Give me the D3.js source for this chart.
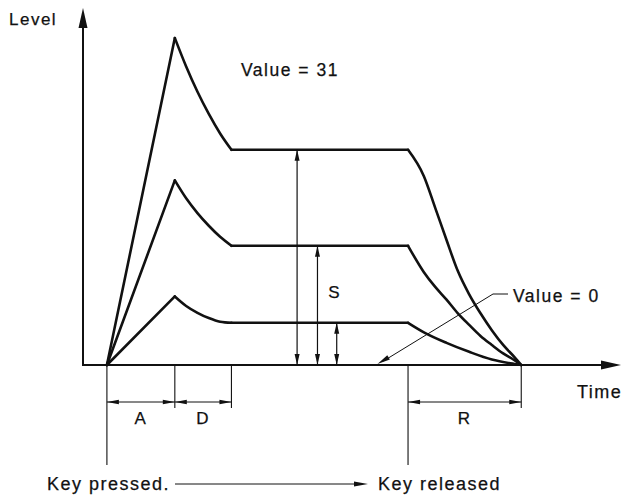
<!DOCTYPE html>
<html><head><meta charset="utf-8">
<script src="https://cdn.jsdelivr.net/npm/d3@7"></script>
<style>
html,body{margin:0;padding:0;background:#fff;}
text{font-family:"Liberation Sans",Arial,sans-serif;fill:#111;letter-spacing:1.5px;stroke:#111;stroke-width:0.25px;}
</style></head>
<body>
<svg id="c" width="624" height="496"></svg>
<script>
// ---- data (time units, level units 0..31) ----
const phaseTimes = [0, 6, 11, 26.6, 36.6];          // key pressed, attack end, decay end, key released, release end
const phaseLabels = ["A", "D", "R"];
const peakLevels = [31, 17.5, 6.5];
const sustainLevels = [20.4, 11.3, 4.0];
const decayCurves = [
  [[6,31],[7,28.3],[8,25.9],[9,23.8],[10,21.95],[11,20.4]],
  [[6,17.5],[7,15.8],[8,14.4],[9,13.2],[10,12.15],[11,11.3]],
  [[6,6.5],[7,5.6],[8,4.95],[9,4.45],[10,4.1],[11,4.0]]
];
const releaseCurves = [
  [[26.6,20.4],[28,17.9],[29,14.9],[30,11.85],[31,8.9],[32,6.7],[33,4.9],[34,3.3],[35,1.9],[36,0.75],[36.6,0]],
  [[26.6,11.3],[28,8.8],[29,7.4],[30,6.2],[31,4.9],[32,3.8],[33,2.75],[34,1.9],[35,1.1],[36,0.45],[36.6,0]],
  [[26.6,4.0],[28,3.1],[30,2.1],[32,1.25],[34,0.52],[36,0.1],[36.6,0]]
];
const sustainArrowTimes = [16.8, 18.6, 20.3];
const axisLabels = ["Level", "Time"];
const valueLabels = ["Value = 31", "Value = 0"];
const keyLabels = ["Key pressed.", "Key released"];

// ---- scales ----
const x = d3.scaleLinear().domain([-2.2, 45.5]).range([82, 622]);
const y = d3.scaleLinear().domain([0, 31]).range([365, 38]);
const svg = d3.select("#c");
const ink = "#111";

function head(g, x1, y1, x2, y2, len, w) {
  const a = Math.atan2(y2 - y1, x2 - x1);
  const bx = x2 - len * Math.cos(a), by = y2 - len * Math.sin(a);
  const px = -Math.sin(a) * w / 2, py = Math.cos(a) * w / 2;
  g.append("path").attr("d", `M${x2},${y2}L${bx+px},${by+py}L${bx-px},${by-py}Z`).attr("fill", ink);
}
function dblArrow(g, x1, y1, x2, y2, sw, len, w) {
  g.append("line").attr("x1", x1).attr("y1", y1).attr("x2", x2).attr("y2", y2)
    .attr("stroke", ink).attr("stroke-width", sw);
  head(g, x2, y2, x1, y1, len, w);
  head(g, x1, y1, x2, y2, len, w);
}

// ---- axes ----
const ax = svg.append("g");
const x0 = x.range()[0] + 1, y0 = y(0);
ax.append("path").attr("d", `M${x0},${y.range()[1]-20}L${x0},${y0}L${x.range()[1]-10},${y0}`)
  .attr("fill", "none").attr("stroke", ink).attr("stroke-width", 2);
head(ax, x0, 100, x0, 8, 20, 9);
head(ax, 500, y0, x.range()[1] - 1, y0, 20, 9);
ax.append("text").attr("x", 9).attr("y", 25).attr("font-size", 17).text(axisLabels[0]);
ax.append("text").attr("x", 577).attr("y", 398).attr("font-size", 18).text(axisLabels[1]);

// ---- envelopes ----
const env = svg.append("g").attr("fill", "none").attr("stroke", ink).attr("stroke-width", 2.6)
  .attr("stroke-linejoin", "round").attr("stroke-linecap", "round");
const lin = d3.line().x(d => x(d[0])).y(d => y(d[1]));
const smooth = d3.line().x(d => x(d[0])).y(d => y(d[1])).curve(d3.curveMonotoneX);
peakLevels.forEach((p, i) => {
  env.append("path").attr("d", lin([[phaseTimes[0], 0], [phaseTimes[1], p]]));
  env.append("path").attr("d", smooth(decayCurves[i]));
  env.append("path").attr("d", lin([[phaseTimes[2], sustainLevels[i]], [phaseTimes[3], sustainLevels[i]]]));
  env.append("path").attr("d", smooth(releaseCurves[i]));
});

// ---- sustain arrows ----
const sg = svg.append("g");
sustainArrowTimes.forEach((t, i) => {
  dblArrow(sg, x(t), y(0), x(t), y(sustainLevels[i]), 1.2, 11, 5);
});
sg.append("text").attr("x", x(19.55)).attr("y", y(6.9) + 6).attr("font-size", 17).text("S");

// ---- phase ticks and dimensions ----
const dg = svg.append("g");
const longTicks = [0, 3];
phaseTimes.forEach((t, i) => {
  dg.append("line").attr("x1", x(t)).attr("x2", x(t)).attr("y1", y0)
    .attr("y2", longTicks.includes(i) ? 465 : 408).attr("stroke", ink).attr("stroke-width", 1.1);
});
const dims = [[0, 1], [1, 2], [3, 4]];
dims.forEach((d, k) => {
  const xa = x(phaseTimes[d[0]]), xb = x(phaseTimes[d[1]]);
  dblArrow(dg, xa, 402, xb, 402, 1, 12, 4.5);
  dg.append("text").attr("x", (xa + xb) / 2).attr("y", 424).attr("text-anchor", "middle")
    .attr("font-size", 17).text(phaseLabels[k]);
});

// ---- value labels ----
const vg = svg.append("g");
vg.append("text").attr("x", 241).attr("y", 76).attr("font-size", 17.5).text(valueLabels[0]);
vg.append("text").attr("x", 513).attr("y", 302).attr("font-size", 17.5).text(valueLabels[1]);
const leaderTip = [23.9, 0];
vg.append("path").attr("d", `M508,294L493,294L${x(leaderTip[0])+6},${y(leaderTip[1])-4}`)
  .attr("fill", "none").attr("stroke", ink).attr("stroke-width", 1);
head(vg, 493, 294, x(leaderTip[0]), y(leaderTip[1]) - 1, 13, 5);

// ---- key labels ----
const kg = svg.append("g");
kg.append("text").attr("x", 47).attr("y", 490).attr("font-size", 18).text(keyLabels[0]);
kg.append("text").attr("x", 378).attr("y", 490).attr("font-size", 18).text(keyLabels[1]);
kg.append("line").attr("x1", 175).attr("x2", 355).attr("y1", 484).attr("y2", 484)
  .attr("stroke", ink).attr("stroke-width", 1);
head(kg, 300, 484, 368, 484, 14, 5);
</script>
</body></html>
